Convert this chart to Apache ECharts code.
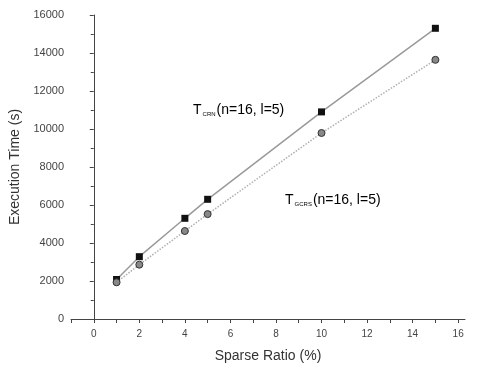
<!DOCTYPE html>
<html>
<head>
<meta charset="utf-8">
<script src="https://cdn.jsdelivr.net/npm/echarts@6/dist/echarts.min.js"></script>
<style>html,body{margin:0;padding:0;background:#fff;}#c{width:477px;height:368px;}</style>
</head>
<body>
<div id="c"></div>
<script>
const sparseRatios = [1, 2, 4, 5, 10, 15];
const crnTimes = [2080, 3280, 5300, 6300, 10900, 15300];
const gcrsTimes = [1930, 2860, 4630, 5520, 9790, 13640];
const xTickLabels = [0, 2, 4, 6, 8, 10, 12, 14, 16];

const chart = echarts.init(document.getElementById('c'), null, {renderer: 'canvas'});
const font = 'Liberation Sans, Arial, sans-serif';
const richLabel = {
  t: {fontSize: 14, color: '#333', fontFamily: font},
  s: {fontSize: 6, color: '#555', verticalAlign: 'bottom', padding: [8, 1, 0, 1], fontFamily: font},
  n: {fontSize: 14, color: '#333', fontFamily: font}
};
chart.setOption({
  animation: false,
  backgroundColor: '#fff',
  grid: {left: 71, right: 12, top: 15, bottom: 46, containLabel: false},
  xAxis: {
    type: 'value', min: -1, max: 16.3, interval: 1,
    name: 'Sparse Ratio (%)', nameLocation: 'middle', nameGap: 30,
    nameTextStyle: {fontFamily: font, fontSize: 14, color: '#333'},
    axisLine: {lineStyle: {color: '#444', width: 1}},
    axisTick: {length: 4, lineStyle: {color: '#444'}},
    axisLabel: {fontFamily: font, fontSize: 10, color: '#444', margin: 10, showMaxLabel: false,
      formatter: v => xTickLabels.indexOf(v) >= 0 ? String(v) : ''},
    splitLine: {show: false}
  },
  yAxis: {
    type: 'value', min: 0, max: 16000, interval: 2000,
    name: 'Execution Time (s)', nameLocation: 'middle', nameGap: 49,
    nameTextStyle: {fontFamily: font, fontSize: 14, color: '#333'},
    axisLine: {show: true, lineStyle: {color: '#444', width: 1}},
    axisTick: {show: true, length: 4, lineStyle: {color: '#444'}},
    minorTick: {show: true, splitNumber: 2, length: 3, lineStyle: {color: '#444'}},
    axisLabel: {fontFamily: font, fontSize: 11, color: '#444', margin: 7, formatter: v => String(v)},
    splitLine: {show: false}
  },
  series: [
    {
      name: 'CRN', type: 'line', data: sparseRatios.map((x, i) => [x, crnTimes[i]]),
      symbol: 'rect', symbolSize: 7,
      lineStyle: {color: '#9a9a9a', width: 1.5},
      itemStyle: {color: '#111', borderWidth: 0}
    },
    {
      name: 'GCRS', type: 'line', data: sparseRatios.map((x, i) => [x, gcrsTimes[i]]),
      symbol: 'circle', symbolSize: 7,
      lineStyle: {color: '#b0b0b0', width: 1.5, type: 'dotted'},
      itemStyle: {color: '#888', borderColor: '#333', borderWidth: 1}
    }
  ],
  graphic: [
    {type: 'text', left: 193, top: 103, style: {
      text: '{t|T}{s|CRN}{n|(n=16, l=5)}', fontFamily: font, rich: richLabel}},
    {type: 'text', left: 285, top: 193, style: {
      text: '{t|T}{s|GCRS}{n|(n=16, l=5)}', fontFamily: font, rich: richLabel}}
  ]
});
</script>
</body>
</html>
